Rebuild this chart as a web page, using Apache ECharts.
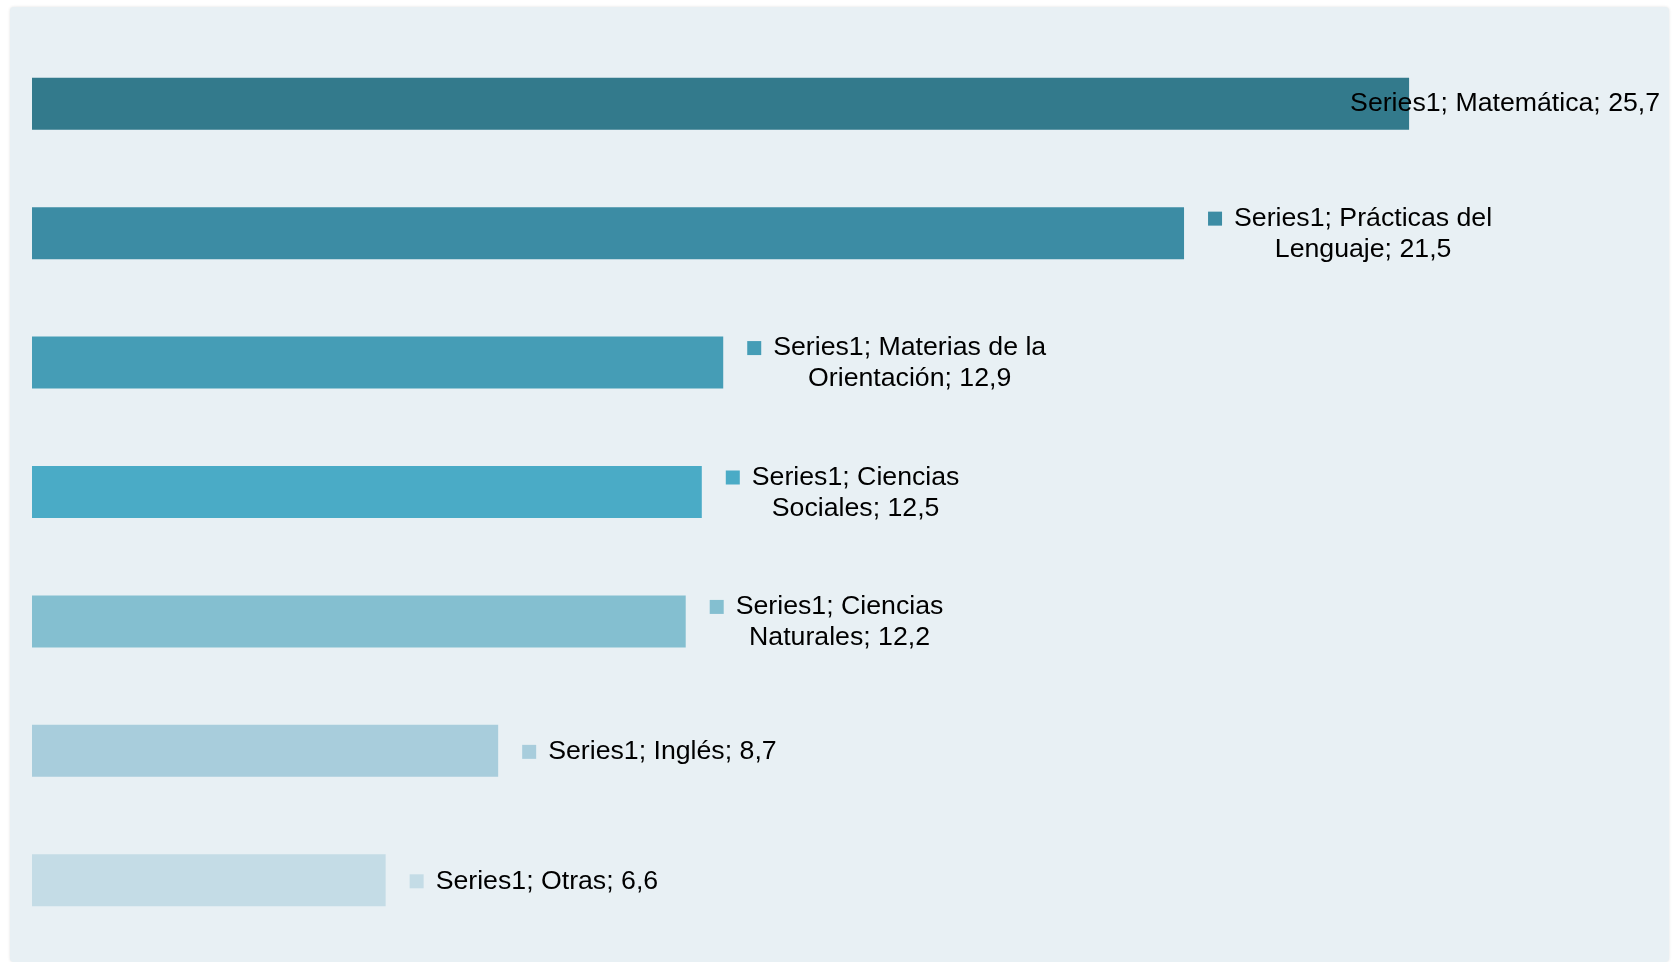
<!DOCTYPE html>
<html>
<head>
<meta charset="utf-8">
<script src="https://cdn.jsdelivr.net/npm/echarts@6/dist/echarts.min.js"></script>
<style>
  html, body { margin: 0; padding: 0; background: #fff; }
  #chart { width: 1677px; height: 962px; }
</style>
</head>
<body>
<div id="chart"></div>
<script>
const seriesName = 'Series1'
const categories = ['Matemática', 'Prácticas del Lenguaje', 'Materias de la Orientación', 'Ciencias Sociales', 'Ciencias Naturales', 'Inglés', 'Otras']
const values = [25.7, 21.5, 12.9, 12.5, 12.2, 8.7, 6.6]
// number of words on the first label line (0 = single line)
const firstLineWords = [0, 3, 4, 2, 2, 0, 0]
const barColors = ['#337a8c', '#3c8ca4', '#459db6', '#4aabc6', '#84bfd0', '#a8cddc', '#c4dce6']

const fmt = v => String(v).replace('.', ',')
const font = 'Liberation Sans, Arial, sans-serif'

const data = values.map((v, i) => {
  const words = (seriesName + '; ' + categories[i] + '; ' + fmt(v)).split(' ')
  const n = firstLineWords[i]
  let text
  if (i === 0) {
    text = '{t0|' + words.join(' ') + '}'
  } else if (n > 0) {
    text = '{m|}{t|' + words.slice(0, n).join(' ') + '}\n{c|' + words.slice(n).join(' ') + '}'
  } else {
    text = '{m|}{t|' + words.join(' ') + '}'
  }
  return {
    value: v,
    itemStyle: { color: barColors[i] },
    label: {
      show: true,
      position: 'right',
      distance: i === 0 ? 0 : 24,
      offset: i === 0 ? [-59, 0] : [0, 1],
      formatter: text,
      lineHeight: 31,
      rich: {
        m: { width: 14, height: 14, backgroundColor: barColors[i], verticalAlign: 'middle' },
        t: { padding: [0, 0, 0, 12], fontSize: 26.7, lineHeight: 31, color: '#000', fontFamily: font },
        t0: { fontSize: 26.7, lineHeight: 31, color: '#000', fontFamily: font },
        c: { align: 'center', padding: [0, 0, 0, 26], fontSize: 26.7, lineHeight: 31, color: '#000', fontFamily: font }
      }
    }
  }
})

const chart = echarts.init(document.getElementById('chart'))
chart.setOption({
  backgroundColor: '#ffffff',
  animation: false,
  graphic: [{
    type: 'rect',
    z: -10,
    silent: true,
    shape: { x: 10, y: 7, width: 1659, height: 955, r: 4 },
    style: { fill: '#e8f0f4', shadowBlur: 3, shadowColor: 'rgba(0,0,0,0.12)' }
  }],
  grid: { left: 32, right: 37.5, top: 39, height: 906 },
  xAxis: {
    type: 'value',
    min: 0,
    max: 30,
    show: false
  },
  yAxis: {
    type: 'category',
    inverse: true,
    data: categories,
    show: false
  },
  series: [{
    name: seriesName,
    type: 'bar',
    barWidth: 52,
    data: data
  }]
})
</script>
</body>
</html>
